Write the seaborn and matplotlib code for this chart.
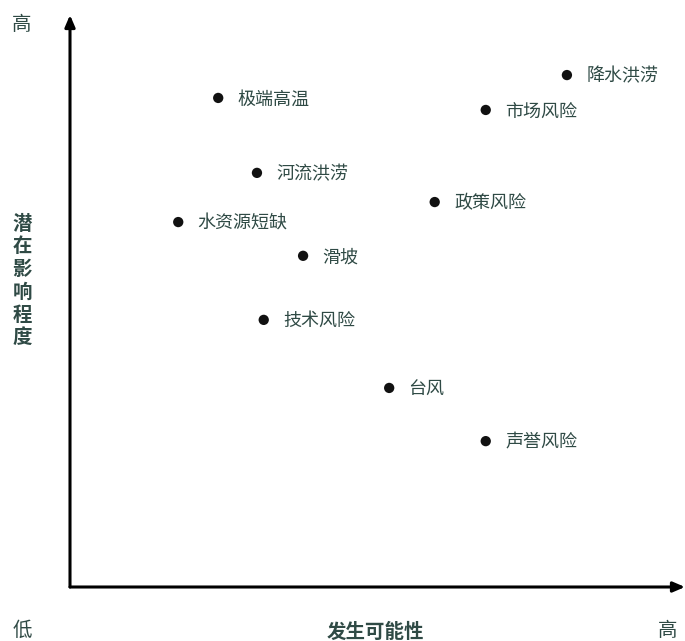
import matplotlib.pyplot as plt
import seaborn as sb
import pandas as pd

risks = ['降水洪涝', '极端高温', '市场风险', '河流洪涝', '政策风险',
         '水资源短缺', '滑坡', '技术风险', '台风', '声誉风险']
likelihood = [8.08, 2.41, 6.76, 3.04, 5.93, 1.76, 3.79, 3.15, 5.19, 6.76]
impact = [8.95, 8.55, 8.34, 7.24, 6.73, 6.38, 5.79, 4.67, 3.48, 2.55]

frame = pd.DataFrame({'risk': risks, 'x': likelihood, 'y': impact})

sb.set_style('white')
plt.rcParams['font.family'] = ['Noto Sans CJK SC', 'DejaVu Sans']

text_col = '#2f4a45'

fig = plt.figure(figsize=(6.85, 6.41), dpi=100)
ax = fig.add_axes([70 / 685, 54 / 641, 615 / 685, 572 / 641])

sb.scatterplot(data=frame, x='x', y='y', color='#111111', s=55,
               edgecolor='none', ax=ax)

for _, row in frame.iterrows():
    ax.annotate(row['risk'], (row['x'], row['y']), xytext=(14, -1),
                textcoords='offset points', va='center', ha='left',
                fontsize=13, fontweight='medium', color=text_col)

ax.set_xlim(0, 10)
ax.set_ylim(0, 10)
ax.set_xticks([])
ax.set_yticks([])
ax.set_xlabel('')
ax.set_ylabel('')
for s in ax.spines.values():
    s.set_visible(False)

# axis arrows
arrow = dict(arrowstyle='-|>,head_width=0.3,head_length=0.7', color='black',
             lw=2.2, shrinkA=0, shrinkB=0)
ax.annotate('', xy=(1.0, 0), xytext=(0, 0), xycoords='axes fraction',
            arrowprops=arrow)
ax.annotate('', xy=(0, 1.0), xytext=(0, 0), xycoords='axes fraction',
            arrowprops=arrow)

fig.text(22 / 685, 1 - 25 / 641, '高', ha='center', va='center',
         fontsize=14, color=text_col)
fig.text(22 / 685, 1 - 630 / 641, '低', ha='center', va='center',
         fontsize=14, color=text_col)
fig.text(668 / 685, 1 - 630 / 641, '高', ha='center', va='center',
         fontsize=14, color=text_col)
fig.text(375 / 685, 1 - 632 / 641, '发生可能性', ha='center', va='center',
         fontsize=14, fontweight='bold', color=text_col)
fig.text(22 / 685, 1 - 281 / 641, '\n'.join('潜在影响程度'), ha='center',
         va='center', fontsize=14, fontweight='bold', color=text_col,
         linespacing=1.25)

plt.savefig('out.png', dpi=100)
